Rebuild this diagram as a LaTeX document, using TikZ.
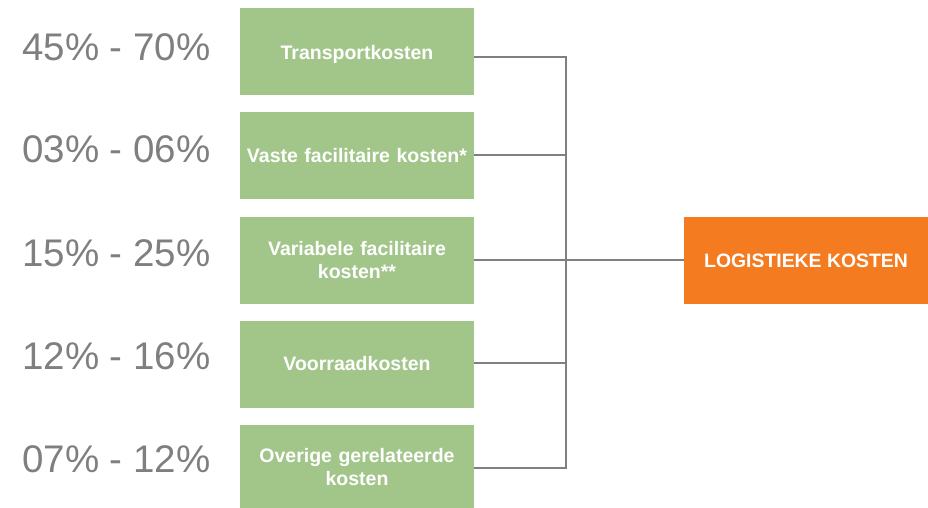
\documentclass[tikz,border=0pt]{standalone}
\usepackage{fontspec}
\setmainfont{Liberation Sans}
\definecolor{boxgreen}{HTML}{A2C68A}
\definecolor{boxorange}{HTML}{F47B20}
\definecolor{linegray}{HTML}{808080}
\definecolor{pctgray}{HTML}{7F7F7F}
\begin{document}
\begin{tikzpicture}[x=1pt,y=-1pt,
  costfont/.style={text=white,font=\fontsize{19.5}{23}\selectfont\bfseries},
  cost/.style={fill=boxgreen,draw=none,minimum width=234pt,minimum height=87pt,text width=226pt,align=center,costfont,inner sep=0pt},
  total/.style={fill=boxorange,draw=none,minimum width=244pt,minimum height=87pt,align=center,text=white,font=\fontsize{19.4}{23}\selectfont\bfseries,inner sep=0pt},
  pct/.style={anchor=west,text=pctgray,font=\fontsize{38.5}{42}\selectfont,inner sep=0pt},
  conn/.style={draw=linegray,line width=2.2pt}]
\useasboundingbox (0,0) rectangle (928,508);
\node[cost,label={[costfont,inner sep=0pt,yshift=-3pt]center:Transportkosten}] (b1) at (357,51.5) {};
\node[cost] (b2) at (357,155.5) {Vaste facilitaire kosten*};
\node[cost] (b3) at (357,260) {Variabele facilitaire\\kosten**};
\node[cost] (b4) at (357,364) {Voorraadkosten};
\node[cost,minimum height=84pt] (b5) at (357,467) {Overige gerelateerde\\kosten};
\node[total] (t) at (806,260.5) {LOGISTIEKE KOSTEN};
\node[pct] (p1) at (22,47) {45\% - 70\%};
\node[pct] (p2) at (22,149) {03\% - 06\%};
\node[pct] (p3) at (22,253) {15\% - 25\%};
\node[pct] (p4) at (22,356) {12\% - 16\%};
\node[pct] (p5) at (22,459) {07\% - 12\%};
\coordinate (j1) at (566,57);
\coordinate (j2) at (566,155);
\coordinate (j3) at (566,260);
\coordinate (j4) at (566,363);
\coordinate (j5) at (566,468);
\draw[conn] (b1.east |- j1) -- (j1) -- (j5) -- (b5.east |- j5);
\draw[conn] (b2.east |- j2) -- (j2);
\draw[conn] (b3.east |- j3) -- (j3) -- (t.west |- j3);
\draw[conn] (b4.east |- j4) -- (j4);
\end{tikzpicture}
\end{document}
